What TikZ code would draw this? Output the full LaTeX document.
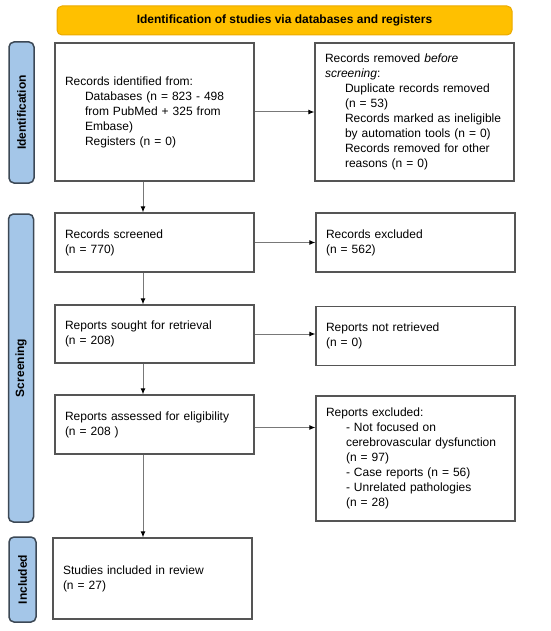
\documentclass[tikz,border=0pt]{standalone}
\usepackage{fontspec}
\setmainfont{Liberation Sans}
\usepackage{xcolor}
\usepackage{tikz}
\usetikzlibrary{arrows.meta, positioning, calc}
\definecolor{headercolor}{RGB}{255, 192, 0}
\definecolor{headerline}{RGB}{235, 170, 0}
\definecolor{phasecolor}{RGB}{164, 198, 232}
\definecolor{phaseline}{RGB}{60, 72, 85}
\definecolor{boxline}{RGB}{85, 85, 85}
\definecolor{linkcolor}{RGB}{120, 120, 120}
\newcommand{\ind}{\hspace*{20pt}}

\begin{document}
\begin{tikzpicture}[
    x=1pt, y=-1pt,
    font=\fontsize{12}{15}\selectfont,
    header/.style={draw=headerline, line width=1pt, fill=headercolor, rounded corners=5pt, minimum width=455pt, minimum height=29pt, font=\fontsize{12}{15}\selectfont\bfseries},
    phase/.style={draw=phaseline, line width=1.5pt, fill=phasecolor, rounded corners=5pt, rotate=90, minimum height=25pt, inner sep=0pt, font=\fontsize{12}{15}\selectfont\bfseries},
    stagebox/.style={draw=boxline, line width=1.2pt, fill=white, text width=179pt, inner xsep=10pt, inner ysep=0pt, align=left, minimum height=#1},
    link/.style={draw=linkcolor, line width=1pt, -{Latex[length=6pt, width=5pt, color=black]}}
]
    \useasboundingbox (0,0) rectangle (550,631);

    % Header
    \node[header] (head) at (284.5, 20.5) {Identification of studies via databases and registers};

    % Phases
    \node[phase, minimum width=141pt] (idphase) at (21.5, 112.5) {Identification};
    \node[phase, minimum width=308pt] (scrphase) at (21, 368) {Screening};
    \node[phase, minimum width=85pt, minimum height=27pt] (incphase) at (22.5, 579.5) {Included};

    % Left column
    \node[stagebox=138pt] (identified) at (154.5, 112) {Records identified from:\\
        \ind Databases (n = 823 - 498\\
        \ind from PubMed + 325 from\\
        \ind Embase)\\
        \ind Registers (n = 0)};
    \node[stagebox=59pt] (screened) at (154.5, 242.5) {Records screened\\(n = 770)};
    \node[stagebox=58pt] (sought) at (154.5, 334) {Reports sought for retrieval\\(n = 208)};
    \node[stagebox=59pt] (assessed) at (154.5, 424.5) {Reports assessed for eligibility\\(n = 208 )};
    \node[stagebox=81pt] (included) at (152.5, 578.5) {Studies included in review\\(n = 27)};

    % Right column
    \node[stagebox=138pt] (removed) at (414.5, 112) {Records removed \textit{before}\\
        \textit{screening}:\\
        \ind Duplicate records removed\\
        \ind (n = 53)\\
        \ind Records marked as ineligible\\
        \ind by automation tools (n = 0)\\
        \ind Records removed for other\\
        \ind reasons (n = 0)};
    \node[stagebox=59pt] (excluded) at (415.5, 242.5) {Records excluded\\(n = 562)};
    \node[stagebox=59pt] (notretrieved) at (415.5, 336) {Reports not retrieved\\(n = 0)};
    \node[stagebox=125pt] (repexcluded) at (415.5, 458.5) {Reports excluded:\\
        \ind - Not focused on\\
        \ind cerebrovascular dysfunction\\
        \ind (n = 97)\\
        \ind - Case reports (n = 56)\\
        \ind - Unrelated pathologies\\
        \ind (n = 28)};

    % Flow down
    \coordinate (spine) at (143, 0);
    \draw[link] (spine |- identified.south) -- (spine |- screened.north);
    \draw[link] (spine |- screened.south) -- (spine |- sought.north);
    \draw[link] (spine |- sought.south) -- (spine |- assessed.north);
    \draw[link] (spine |- assessed.south) -- (spine |- included.north);

    % Flow right
    \draw[link] (identified.east) -- (identified.east -| removed.west);
    \draw[link] (screened.east) -- (screened.east -| excluded.west);
    \draw[link] (sought.east) -- (sought.east -| notretrieved.west);
    \draw[link] ([yshift=-3pt]assessed.east) -- ([yshift=-3pt]assessed.east -| repexcluded.west);

\end{tikzpicture}
\end{document}
